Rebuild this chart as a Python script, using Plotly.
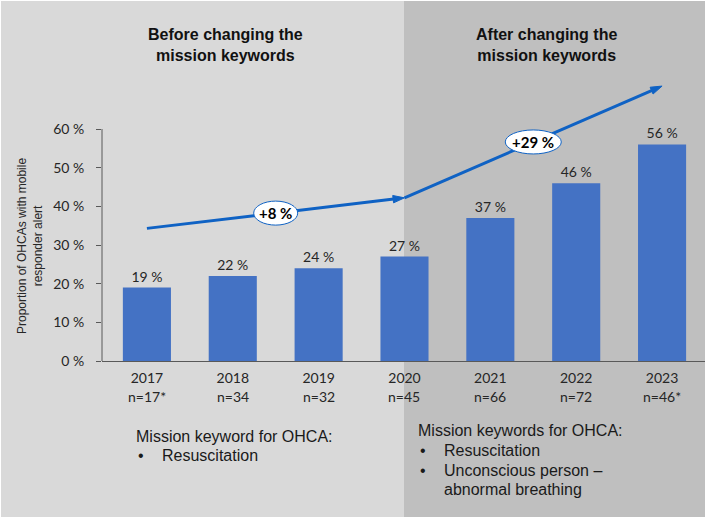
import plotly.graph_objects as go

# ---- data ----
years = ["2017", "2018", "2019", "2020", "2021", "2022", "2023"]
n_labels = ["n=17*", "n=34", "n=32", "n=45", "n=66", "n=72", "n=46*"]
proportions = [19, 22, 24, 27, 37, 46, 56]
y_ticks = [0, 10, 20, 30, 40, 50, 60]
y_tick_text = ["0 %", "10 %", "20 %", "30 %", "40 %", "50 %", "60 %"]
trend_before = [34.3, 42.2]   # 2017 -> 2020
trend_after = [42.2, 71.1]    # 2020 -> 2023
trend_before_label = "+8 %"
trend_after_label = "+29 %"
title_before = "Before changing the<br>mission keywords"
title_after = "After changing the<br>mission keywords"
kw_before_head = "Mission keyword for OHCA:"
kw_before_items = ["Resuscitation"]
kw_after_head = "Mission keywords for OHCA:"
kw_after_items = ["Resuscitation", "Unconscious person –", "abnormal breathing"]

# ---- layout constants (pixels) ----
W, H = 708, 520
PL, PR, PT, PB = 102, 705, 71, 361   # plot area box
x_idx = list(range(len(years)))


def px(xp):
    return (xp - PL) / (PR - PL)


def py(yp):
    return (PB - yp) / (PB - PT)


LIGHT = "#d9d9d9"
DARK = "#bfbfbf"
BAR = "#4472c4"
ARROW = "#0f62c4"
TXT = "#262626"

fig = go.Figure()

fig.add_trace(go.Bar(
    x=x_idx, y=proportions, width=0.56,
    marker=dict(color=BAR, line=dict(width=0)),
    text=[f"{v} %" for v in proportions], textposition="outside",
    textfont=dict(family="Lato", size=14, color=TXT),
    cliponaxis=False, hoverinfo="skip",
))

# trend arrows
for seg, xs in [(trend_before, [x_idx[0], x_idx[3]]), (trend_after, [x_idx[3], x_idx[6]])]:
    fig.add_trace(go.Scatter(
        x=xs, y=seg, mode="lines+markers",
        line=dict(color=ARROW, width=3),
        marker=dict(symbol="arrow", size=[0, 12], angleref="previous", color=ARROW,
                    opacity=1, line=dict(color=ARROW, width=1)),
        hoverinfo="skip",
    ))

shapes = [
    dict(type="rect", xref="paper", yref="paper", x0=px(1), x1=px(404),
         y0=py(517), y1=py(1), fillcolor=LIGHT, line=dict(width=0), layer="below"),
    dict(type="rect", xref="paper", yref="paper", x0=px(404), x1=px(705),
         y0=py(517), y1=py(1), fillcolor=DARK, line=dict(width=0), layer="below"),
    dict(type="line", xref="paper", yref="y", x0=0, x1=0, y0=0, y1=60,
         line=dict(color="#595959", width=1)),
]

annotations = []
for lab, seg, xm in [(trend_before_label, trend_before, 1.5),
                     (trend_after_label, trend_after, 4.5)]:
    ym = (seg[0] + seg[1]) / 2
    hw = 22 if len(lab) < 5 else 28
    shapes.append(dict(type="circle", xref="x", yref="y", xsizemode="pixel",
                       ysizemode="pixel", xanchor=xm, yanchor=ym,
                       x0=-hw, x1=hw, y0=-12, y1=12, fillcolor="white",
                       line=dict(color=ARROW, width=1), layer="above"))
    annotations.append(dict(x=xm, y=ym, xref="x", yref="y", text=f"<b>{lab}</b>",
                            showarrow=False,
                            font=dict(family="Lato", size=15, color="#000000")))

# titles
for txt, xc in [(title_before, 225), (title_after, 546)]:
    annotations.append(dict(x=px(xc), y=py(45), xref="paper", yref="paper",
                            text=f"<b>{txt}</b>", showarrow=False,
                            xanchor="center", yanchor="middle",
                            font=dict(family="Liberation Sans", size=16, color="#111111")))

# n labels
for xi, nl in zip(x_idx, n_labels):
    annotations.append(dict(x=xi, y=py(396), xref="x", yref="paper", text=nl,
                            showarrow=False, yanchor="middle",
                            font=dict(family="Lato", size=14, color=TXT)))

# y axis title
annotations.append(dict(x=px(30), y=py(246), xref="paper", yref="paper",
                        text="Proportion of OHCAs with mobile<br>responder alert",
                        textangle=-90, showarrow=False, xanchor="center", yanchor="middle",
                        font=dict(family="Liberation Sans", size=12, color=TXT)))

# keyword blocks
kw_font = dict(family="Liberation Sans", size=16, color="#1a1a1a")


def kw_block(x_head, y_head, head, items, bullets_at):
    annotations.append(dict(x=px(x_head), y=py(y_head), xref="paper", yref="paper",
                            text=head, showarrow=False, xanchor="left", yanchor="middle",
                            font=kw_font))
    for i, it in enumerate(items):
        yy = y_head + 20 * (i + 1) - (1 if i >= 2 else 0)
        if i in bullets_at:
            annotations.append(dict(x=px(x_head + 2), y=py(yy), xref="paper", yref="paper",
                                    text="•", showarrow=False, xanchor="left",
                                    yanchor="middle", font=kw_font))
        annotations.append(dict(x=px(x_head + 26), y=py(yy), xref="paper", yref="paper",
                                text=it, showarrow=False, xanchor="left",
                                yanchor="middle", font=kw_font))


kw_block(134, 436, kw_before_head, kw_before_items, {0})
kw_block(416, 430, kw_after_head, kw_after_items, {0, 1})

fig.update_layout(
    width=W, height=H,
    margin=dict(l=PL, r=W - PR, t=PT, b=H - PB, pad=0),
    paper_bgcolor="white", plot_bgcolor="rgba(0,0,0,0)",
    showlegend=False, bargap=0.4,
    shapes=shapes, annotations=annotations,
    xaxis=dict(range=[-0.523, 6.5], tickvals=x_idx, ticktext=years,
               showline=True, linecolor="#595959", linewidth=1, ticks="",
               showgrid=False, zeroline=False, fixedrange=True,
               tickfont=dict(family="Lato", size=14, color=TXT), ticklabelstandoff=4),
    yaxis=dict(range=[0, 75], tickvals=y_ticks, ticktext=y_tick_text,
               showline=False, ticks="outside", ticklen=5, tickcolor="#595959",
               showgrid=False, zeroline=False, fixedrange=True,
               tickfont=dict(family="Lato", size=14, color=TXT), ticklabelstandoff=9),
)

fig.write_html("out.html", config={"displayModeBar": False},
               post_script="document.body.style.margin='0';document.body.style.overflow='hidden';")
